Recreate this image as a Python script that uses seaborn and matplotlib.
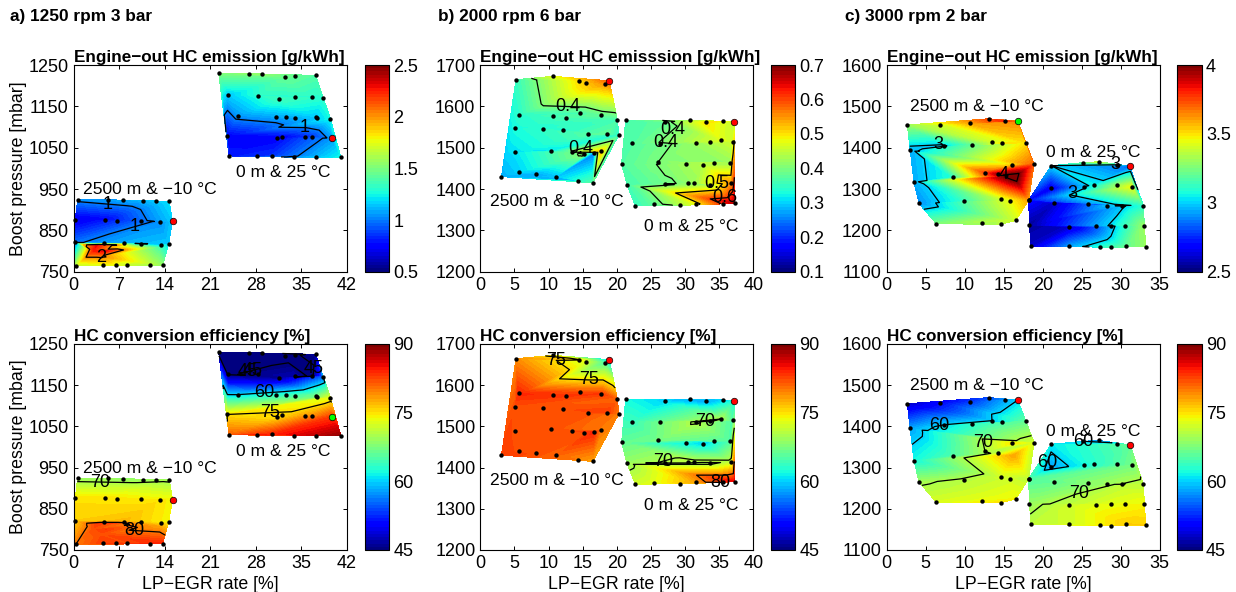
import numpy as np
import pandas as pd
import matplotlib
matplotlib.use("Agg")
import matplotlib.pyplot as plt
import matplotlib.tri as mtri
from matplotlib.cm import ScalarMappable
from matplotlib.colors import Normalize
import seaborn as sns

# a) 1250 rpm 3 bar, 0 m group
a_up_x = [22.3, 27.0, 28.9, 32.5, 34.1, 37.2, 23.7, 28.4, 31.6, 34.1, 36.7, 38.3, 25.2, 31.1, 32.7, 34.1, 37.2, 37.5, 39.5, 23.6, 31.3, 32.0, 35.6, 36.7, 39.7, 23.9, 28.2, 30.5, 33.9, 37.3, 41.1]
a_up_y = [1230, 1229, 1228, 1220, 1224, 1225, 1177, 1176, 1168, 1173, 1172, 1170, 1127, 1125, 1125, 1123, 1124, 1121, 1120, 1079, 1073, 1077, 1075, 1076, 1073, 1030, 1030, 1031, 1027, 1027, 1027]
a_up_hc = [1.5, 1.55, 1.55, 1.45, 1.4, 1.4, 1.15, 1.3, 1.35, 1.3, 1.3, 1.3, 1.05, 1.1, 1.1, 1.1, 1.15, 1.15, 1.25, 0.75, 0.75, 0.75, 0.8, 0.85, 1.05, 0.8, 0.8, 0.85, 1.05, 1.15, 1.25]
a_up_eff = [43, 44, 44, 44, 44, 46, 44.5, 46, 46, 47, 44, 55, 60, 63, 64, 65, 67, 67, 73, 75, 75, 75.5, 78, 79, 83, 81, 85, 84, 82, 86, 89]

# a) 2500 m group, the last nodes carry the jump below 820 mbar and have no dot
a_lo_x = [0.6, 5.3, 7.6, 10.7, 12.7, 14.7, 0.25, 4.8, 6.7, 10.3, 13.2, 15.2, 0.25, 4.6, 7.7, 10.3, 13.4, 14.6, 0.35, 4.5, 6.5, 8.2, 11.8, 13.7, 1.5, 3.5, 6.0, 9.0, 13.0, 3.0, 5.0, 4.0]
a_lo_y = [924, 924, 923, 921, 921, 920, 876, 876, 873, 873, 871, 872, 821, 818.5, 819, 818, 815, 818, 764, 766, 766, 766, 765, 765, 815, 815, 815, 812, 808, 800, 800, 788]
a_lo_hc = [1.03, 1.05, 1.05, 1.1, 1.15, 1.2, 0.7, 0.75, 0.85, 0.92, 1.03, 1.15, 0.98, 1.15, 1.1, 0.95, 1.1, 1.15, 1.65, 1.75, 1.75, 1.65, 1.6, 1.55, 1.9, 2.3, 2.1, 1.6, 1.4, 2.25, 2.3, 2.05]
a_lo_eff = [69, 68, 68, 69, 69, 69.5, 75, 75, 75, 75, 75, 74, 76, 78, 77, 76, 75, 74, 80, 83, 83, 82, 84, 84, 79, 83, 83, 79.5, 78, 82, 83, 82]

# b) 2000 rpm 6 bar
b_up_x = [5.23, 10.6, 14.4, 15.55, 18.3, 18.9, 5.6, 10.6, 12.6, 14.6, 17.75, 20.1, 5.1, 9.2, 12.1, 15.8, 18.6, 20.3, 5.1, 10.4, 13.45, 15.25, 16.6, 17.7, 3.1, 5.6, 8.2, 11.1, 14.3, 16.5]
b_up_y = [1664.5, 1672.6, 1662, 1657, 1655, 1662, 1580, 1576, 1572.6, 1583, 1579, 1566, 1548, 1545, 1542, 1533, 1533, 1530.6, 1489, 1493, 1489, 1484, 1486, 1491, 1430, 1441, 1436, 1430, 1419, 1415]
b_up_hc = [0.35, 0.47, 0.50, 0.52, 0.55, 0.58, 0.34, 0.36, 0.36, 0.36, 0.38, 0.36, 0.33, 0.34, 0.34, 0.37, 0.38, 0.34, 0.31, 0.31, 0.39, 0.41, 0.25, 0.52, 0.28, 0.30, 0.28, 0.29, 0.28, 0.37]
b_up_eff = [79, 74, 75.5, 72, 65, 60, 84, 83, 83, 82, 83, 81, 82, 82, 82, 82, 83, 80, 82, 82, 82, 82, 84, 80, 83, 82, 82, 81, 80, 78]

b_lo_x = [21.3, 27.0, 30.7, 33.05, 35.6, 37.2, 22.25, 26.35, 31.6, 33.6, 35.3, 37.0, 20.7, 26.1, 30.1, 32.6, 34.2, 36.6, 21.5, 27.0, 30.5, 31.3, 33.6, 36.8, 22.7, 25.5, 29.3, 31.6, 35.6, 37.25]
b_lo_y = [1566, 1562, 1566, 1561, 1564, 1562, 1510.5, 1510, 1511, 1513, 1518, 1514.5, 1461, 1466, 1460.5, 1458, 1464, 1464, 1410.5, 1412, 1414, 1414.5, 1410.5, 1414, 1360, 1363, 1360.5, 1364, 1364, 1366]
b_lo_hc = [0.36, 0.38, 0.43, 0.5, 0.49, 0.45, 0.37, 0.39, 0.42, 0.45, 0.47, 0.46, 0.37, 0.40, 0.42, 0.44, 0.45, 0.42, 0.36, 0.40, 0.41, 0.42, 0.43, 0.55, 0.35, 0.38, 0.41, 0.48, 0.62, 0.67]
b_lo_eff = [62, 60, 59, 58, 60, 62, 64, 67, 70.5, 71, 70, 65, 66, 67, 62, 60, 60, 65, 69, 71, 71, 71, 69, 71, 72, 73, 75, 78, 80, 86]

# c) 3000 rpm 2 bar, the last node of the 2500 m group is the hot spot without a dot
c_up_x = [2.65, 6.85, 10.7, 13.1, 15.2, 16.8, 3.0, 7.4, 10.9, 13.5, 14.8, 17.85, 3.5, 8.5, 12.6, 14.3, 16.1, 18.9, 4.15, 9.9, 14.7, 15.8, 18.2, 6.35, 12.2, 14.6, 16.55, 16.3]
c_up_y = [1455, 1456, 1460, 1470, 1464, 1464, 1395, 1404, 1406.5, 1414, 1410.5, 1412, 1317, 1328, 1339.5, 1336, 1359, 1360.5, 1265, 1270, 1276.6, 1272, 1273, 1216, 1218, 1214.5, 1224, 1330]
c_up_hc = [3.3, 3.4, 3.6, 3.75, 3.8, 3.65, 2.95, 2.98, 3.2, 3.4, 3.5, 3.5, 2.95, 3.1, 3.75, 3.95, 3.5, 3.7, 2.9, 3.12, 3.4, 3.45, 3.6, 3.25, 3.3, 3.35, 3.4, 4.1]
c_up_eff = [48, 51, 53, 54, 57, 60, 58, 60, 63, 60, 60, 66, 62, 65, 70, 71, 75, 72, 69.5, 70.5, 72, 72, 71, 72.5, 74, 75, 74, 78]

c_lo_x = [21.1, 25.2, 27.2, 29.5, 31.2, 21.0, 25.3, 26.6, 29.5, 31.4, 18.2, 21.4, 25.8, 28.2, 30.2, 32.9, 18.3, 23.4, 26.8, 28.8, 30.5, 33.0, 18.5, 23.4, 27.3, 28.8, 30.7, 33.2]
c_lo_y = [1356.5, 1364, 1366, 1358, 1355, 1301.6, 1305.6, 1309, 1309, 1305.6, 1273, 1265, 1263, 1259.7, 1259, 1259.7, 1212, 1209, 1209.7, 1211, 1210.5, 1210.5, 1162, 1162, 1159.7, 1159, 1162, 1160.5]
c_lo_hc = [3.0, 3.2, 3.4, 2.98, 2.85, 2.65, 3.0, 3.05, 3.3, 3.45, 2.7, 2.6, 2.65, 2.97, 2.98, 3.1, 2.55, 2.6, 2.8, 3.02, 3.1, 3.3, 2.6, 2.92, 3.1, 3.15, 3.2, 3.3]
c_lo_eff = [61, 60, 56, 61.5, 66, 58, 62, 63, 65, 67, 65, 66, 68, 69, 71, 71, 69, 72, 73, 73, 74, 74, 71, 72, 74, 75, 76, 76]

panel_titles = ["a) 1250 rpm 3 bar", "b) 2000 rpm 6 bar", "c) 3000 rpm 2 bar"]
hc_titles = ["Engine\u2212out HC emission [g/kWh]", "Engine\u2212out HC emisssion [g/kWh]", "Engine\u2212out HC emission [g/kWh]"]
eff_title = "HC conversion efficiency [%]"
x_ticks = [[0, 7, 14, 21, 28, 35, 42], [0, 5, 10, 15, 20, 25, 30, 35, 40], [0, 5, 10, 15, 20, 25, 30, 35]]
y_ticks = [[750, 850, 950, 1050, 1150, 1250], [1200, 1300, 1400, 1500, 1600, 1700], [1100, 1200, 1300, 1400, 1500, 1600]]
hc_ticks = [[0.5, 1, 1.5, 2, 2.5], [0.1, 0.2, 0.3, 0.4, 0.5, 0.6, 0.7], [2.5, 3, 3.5, 4]]
eff_ticks = [45, 60, 75, 90]

# left edge of plot and colour bar per column, top and bottom per row (pixels)
plot_left = [73.7, 480.3, 886.7]
bar_left = [364.7, 771.0, 1177.3]
row_top = [65.0, 344.0]
row_bottom = [271.7, 550.0]
W, H = 1236, 592

sns.set_theme(style="ticks")
plt.rcParams["font.family"] = ["Liberation Sans", "DejaVu Sans"]
plt.rcParams["font.size"] = 12.6
plt.rcParams["axes.linewidth"] = 0.8
plt.rcParams["axes.edgecolor"] = "black"
plt.rcParams["axes.labelcolor"] = "black"
plt.rcParams["text.color"] = "black"
plt.rcParams["xtick.color"] = "black"
plt.rcParams["ytick.color"] = "black"


def field(ax, x, y, z, zmin, zmax, levels, labels, dots=None, mark=None, mark_color="red"):
    tri = mtri.Triangulation(x, y)
    fill_levels = np.linspace(zmin, zmax, 65)
    ax.tricontourf(tri, z, levels=fill_levels, cmap=plt.get_cmap("jet", 64), extend="both", zorder=1)
    cs = ax.tricontour(tri, z, levels=levels, colors="black", linewidths=0.9, zorder=2)
    texts = ax.clabel(cs, manual=labels, inline=False, fontsize=13, colors="black", fmt="%g")
    for t in texts:
        t.set_rotation(0)
    n = dots if dots else len(x)
    points = pd.DataFrame({"x": x[:n], "y": y[:n]})
    sns.scatterplot(data=points, x="x", y="y", color="black", s=10, linewidth=0, clip_on=False, zorder=3, legend=False, ax=ax)
    if mark is not None:
        sns.scatterplot(x=[x[mark]], y=[y[mark]], color=mark_color, edgecolor="black", linewidth=0.5, s=22, clip_on=False, zorder=4, legend=False, ax=ax)


def setup(col, row, title, zmin, zmax, bar_ticks):
    left, top, bottom = plot_left[col], row_top[row], row_bottom[row]
    ax = fig.add_axes([left / W, 1 - bottom / H, 273 / W, (bottom - top) / H])
    ax.set_xlim(x_ticks[col][0], x_ticks[col][-1])
    ax.set_ylim(y_ticks[col][0], y_ticks[col][-1])
    ax.set_xticks(x_ticks[col])
    ax.set_yticks(y_ticks[col])
    ax.tick_params(direction="in", top=True, right=True, length=3, width=0.7, labelsize=13, pad=3.5, colors="black")
    ax.set_title(title, loc="left", fontsize=12.3, fontweight="bold", pad=2)

    cax = fig.add_axes([bar_left[col] / W, 1 - bottom / H, 24.4 / W, (bottom - top) / H])
    sm = ScalarMappable(Normalize(zmin, zmax), plt.get_cmap("jet", 64))
    bar = fig.colorbar(sm, cax=cax)
    bar.set_ticks(bar_ticks)
    bar.set_ticklabels([f"{t:g}" for t in bar_ticks])
    bar.outline.set_linewidth(0.8)
    cax.tick_params(direction="in", left=True, right=True, length=3, width=0.7, labelsize=13, pad=3)
    return ax


def labels(ax, col, row):
    # seaborn puts its own column names on the axes, so these go last
    ax.set_xlabel("LP\u2212EGR rate [%]" if row == 1 else "", fontsize=12.8, labelpad=3)
    ax.set_ylabel("Boost pressure [mbar]" if col == 0 else "", fontsize=12.8, labelpad=1)


fig = plt.figure(figsize=(W / 100, H / 100), dpi=100)

for text, px in zip(panel_titles, [10, 438, 845]):
    fig.text(px / W, 1 - 17 / H, text, fontsize=12.4, fontweight="bold", va="center", ha="left")

# column a
ax = setup(0, 0, hc_titles[0], 0.5, 2.5, hc_ticks[0])
field(ax, a_up_x, a_up_y, a_up_hc, 0.5, 2.5, [1], [(35.5, 1098)], mark=24)
field(ax, a_lo_x, a_lo_y, a_lo_hc, 0.5, 2.5, [1, 2], [(5.1, 890), (9.7, 839), (4.15, 793)], dots=24, mark=11)
ax.text(32.3, 989, "0 m & 25 \u00b0C", ha="center", va="center")
ax.text(11.7, 949, "2500 m & \u221210 \u00b0C", ha="center", va="center")
labels(ax, 0, 0)

ax = setup(0, 1, eff_title, 45, 90, eff_ticks)
field(ax, a_up_x, a_up_y, a_up_eff, 45, 90, [45, 60, 75], [(26.9, 1177), (27.9, 1167), (37.1, 1191), (29.3, 1128), (30.3, 1057)], mark=24, mark_color="#00ff00")
field(ax, a_lo_x, a_lo_y, a_lo_eff, 45, 90, [70, 80], [(4, 900), (9.3, 785)], dots=24, mark=11)
ax.text(32.3, 989, "0 m & 25 \u00b0C", ha="center", va="center")
ax.text(11.7, 949, "2500 m & \u221210 \u00b0C", ha="center", va="center")
labels(ax, 0, 1)

# column b
ax = setup(1, 0, hc_titles[1], 0.1, 0.7, hc_ticks[1])
field(ax, b_up_x, b_up_y, b_up_hc, 0.1, 0.7, [0.4], [(12.8, 1603), (14.6, 1502)], mark=5)
field(ax, b_lo_x, b_lo_y, b_lo_hc, 0.1, 0.7, [0.4, 0.5, 0.6], [(27.1, 1506), (29, 1530), (34.4, 1414), (35.7, 1393)], mark=5)
ax.text(30.9, 1309, "0 m & 25 \u00b0C", ha="center", va="center")
ax.text(11.2, 1369, "2500 m & \u221210 \u00b0C", ha="center", va="center")
labels(ax, 1, 0)

ax = setup(1, 1, eff_title, 45, 90, eff_ticks)
field(ax, b_up_x, b_up_y, b_up_eff, 45, 90, [75], [(11, 1663), (15.9, 1625)], mark=5)
field(ax, b_lo_x, b_lo_y, b_lo_eff, 45, 90, [70, 80], [(33, 1505), (26.5, 1433), (35.2, 1366)], mark=5)
ax.text(30.9, 1309, "0 m & 25 \u00b0C", ha="center", va="center")
ax.text(11.2, 1369, "2500 m & \u221210 \u00b0C", ha="center", va="center")
labels(ax, 1, 1)

# column c
ax = setup(2, 0, hc_titles[2], 2.5, 4, hc_ticks[2])
field(ax, c_up_x, c_up_y, c_up_hc, 2.5, 4, [3, 4], [(6.6, 1412), (14, 1325)], dots=27, mark=5, mark_color="#00ff00")
field(ax, c_lo_x, c_lo_y, c_lo_hc, 2.5, 4, [3], [(23.5, 1300), (29.3, 1348)], mark=4)
ax.text(26.5, 1388, "0 m & 25 \u00b0C", ha="center", va="center")
ax.text(11.55, 1499, "2500 m & \u221210 \u00b0C", ha="center", va="center")
labels(ax, 2, 0)

ax = setup(2, 1, eff_title, 45, 90, eff_ticks)
field(ax, c_up_x, c_up_y, c_up_eff, 45, 90, [60, 70], [(6.6, 1415), (11.1, 1355)], dots=27, mark=5)
field(ax, c_lo_x, c_lo_y, c_lo_eff, 45, 90, [60, 70], [(25, 1355), (21, 1310), (24.6, 1239)], mark=4)
ax.text(26.5, 1388, "0 m & 25 \u00b0C", ha="center", va="center")
ax.text(11.55, 1499, "2500 m & \u221210 \u00b0C", ha="center", va="center")
labels(ax, 2, 1)

fig.savefig("out.png", dpi=100)
plt.close(fig)
